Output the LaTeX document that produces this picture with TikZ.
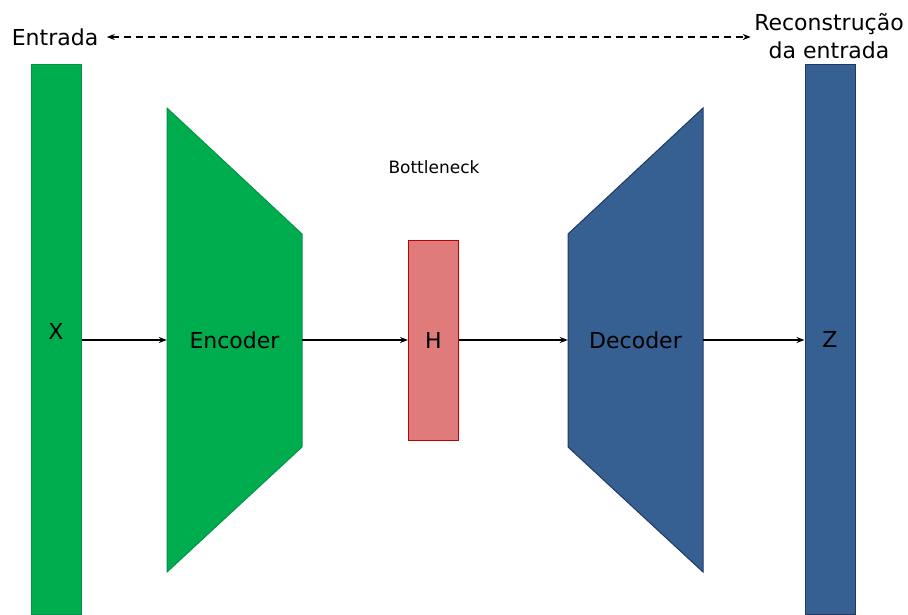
\documentclass[tikz,border=0pt]{standalone}
\usepackage{fontspec}
\setmainfont{DejaVu Sans}
\usetikzlibrary{arrows.meta,positioning}

\definecolor{encfill}{HTML}{00AD4E}
\definecolor{encline}{HTML}{00934A}
\definecolor{decfill}{HTML}{376092}
\definecolor{decline}{HTML}{1F3864}
\definecolor{hfill}{HTML}{E07B7B}
\definecolor{hline}{HTML}{C00000}

\begin{document}
\begin{tikzpicture}[x=1pt,y=-1pt,
    bar/.style={draw, line width=1pt, minimum width=50pt, minimum height=550pt, inner sep=0pt},
    lbl/.style={font=\fontsize{22}{26}\selectfont},
    flow/.style={-{Stealth[length=8pt,width=6pt]}, line width=1.8pt}]
    \useasboundingbox (0,0) rectangle (908,614);

    % input and output layers
    \node[bar, fill=encfill, draw=encline, label={[lbl, yshift=8pt]center:X}] (x) at (56,339) {};
    \node[bar, fill=decfill, draw=decline, label={[lbl]center:Z}] (z) at (830,339) {};

    % encoder / decoder blocks
    \filldraw[fill=encfill, draw=encline, line width=1pt]
        (167,108) -- (302,234) -- (302,447) -- (167,572) -- cycle;
    \filldraw[fill=decfill, draw=decline, line width=1pt]
        (703,108) -- (568,234) -- (568,447) -- (703,572) -- cycle;
    \node[lbl, minimum width=135pt, inner sep=0pt] (enc) at (234.5,340) {Encoder};
    \node[lbl, minimum width=135pt, inner sep=0pt] (dec) at (635.5,340) {Decoder};

    % code layer
    \node[draw=hline, fill=hfill, line width=1pt, minimum width=50pt, minimum height=200pt,
          inner sep=0pt, lbl] (h) at (433.5,340) {H};
    \node[font=\fontsize{17}{20}\selectfont] (bn) at (434,167) {Bottleneck};

    \node[lbl] (in) at (55,37) {Entrada};
    \node[font=\fontsize{22}{28}\selectfont, align=center] (out) at (829,36) {Reconstrução\\da entrada};

    \path[flow]
    (x.east |- enc) edge (enc.west)
    (enc.east) edge (h.west)
    (h.east) edge (dec.west)
    (dec.east) edge (z.west |- dec);
    \draw[{Stealth[length=8pt,width=6pt]}-{Stealth[length=8pt,width=6pt]}, line width=1.8pt,
          dash pattern=on 7pt off 5pt, shorten <=5pt]
        (in.east) -- (in.east -| out.west);
\end{tikzpicture}
\end{document}
